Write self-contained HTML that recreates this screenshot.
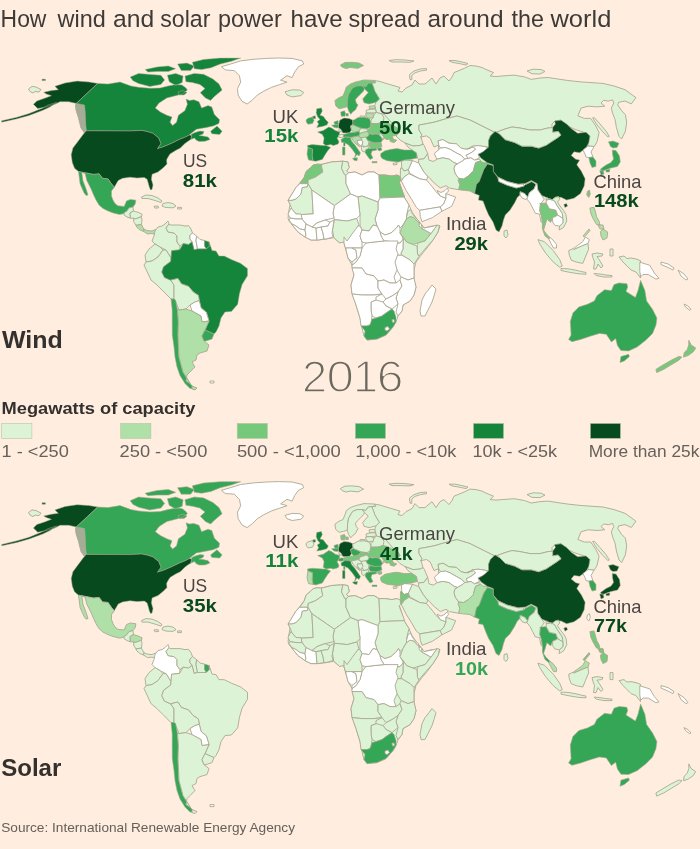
<!DOCTYPE html>
<html lang="en"><head><meta charset="utf-8"><title>How wind and solar power have spread around the world</title>
<style>
html,body{margin:0;padding:0}
body{width:700px;height:849px;background:#ffeedf;position:relative;overflow:hidden;font-family:"Liberation Sans",sans-serif;color:#33302e}
svg{position:absolute;left:0;top:0}
path{stroke:#aca892;stroke-width:.9;stroke-linejoin:round}
.c0{fill:#ffffff}
.c1{fill:#dcf3d6}
.c2{fill:#aee0a8}
.c3{fill:#76c87b}
.c4{fill:#35a656}
.c5{fill:#14853b}
.c6{fill:#064a1d}
.c7{fill:#a5ad96}

path.c5,path.c6{stroke-width:.5}
path.c4{stroke-width:.6}
.sw{stroke:#b9c4a4;stroke-width:.6}
</style></head><body>
<svg width="700" height="849" viewBox="0 0 700 849">
<g id="wind">
<path class="c6" d="M54.9 86.3L65.1 82.9L77.1 81.1L89.1 82L97.7 83.4L76.3 103.4L68.6 101.7L60 101.7L54.9 104.3L46.3 106.9L37.7 108.6L33.4 104.3L36.9 100.9L44.6 98.3L51.4 95.7L46.3 94L43.7 92.3L51.4 90.6L58.3 89.7ZM56.6 102.5L50 107L42.9 110.3L29.1 115.4L17.1 118.8L1.7 122.2L1.7 120.8L17.1 117.2L29.1 113.6L42.9 108L48 105ZM42 79.2L45.4 79.2L45.4 80.6L42 80.6Z"/>
<path class="c7" d="M76.3 103.4L84.5 105L85.2 112L85.7 124L85.7 130.8L86.3 130.8L84.5 133L81 128L78.5 118L76 110L75.5 105Z"/>
<path class="c5" d="M97.7 83.4L108 84L120 82L131 86L138.6 87.3L150 88.3L160 88L168 86L176 84.5L182 85L186 88L187.4 90.1L182.3 94L174.6 95.9L166.9 97.9L159.1 103L155.3 108.1L160.4 112L166.9 115.2L172 117.1L170.1 122.3L172.6 125.5L176.5 122.3L178.4 115.2L184.8 110.7L187.4 104.3L186.1 99.1L189.3 100.4L193.8 99.8L199 101.7L201.6 108.1L208 105.6L211.8 106.9L214.4 114.6L219.6 119.7L218.9 123.6L213.1 126.1L206.7 127.4L196.4 129.3L191 133.5L189.4 135L184.9 137.3L179.1 139.6L172.3 143L164.3 146.4L157.4 148.7L160.9 143.6L158.6 137.9L152.9 133.3L147 131.5L141.4 130.4L130 131L86.3 130.8L85.7 124L85.2 112L84.5 105L76.3 103.4ZM130.2 77.1L138.6 73.4L147.9 74.3L160.9 75.2L164.6 79.9L160.9 84.5L149.7 86.4L138.6 83.6L133 80.8ZM145.1 69.6L157.1 66.9L168.3 65.9L175.7 68.7L168.3 71.5L157.1 71.5L147.9 72.1ZM167.4 75.2L175.7 73.4L183.1 76.1L182.2 82.6L175.7 85.4L169.2 81.7ZM177.6 64.1L186.9 63.1L194.3 65.9L190.6 70.6L181.3 70.6ZM192.4 62.2L203.6 59.4L220.3 58.1L240.7 58.1L231.4 61.3L220.3 64.1L211 67.8L201.7 69.6L194.3 68.7ZM185 76.1L194.3 73.4L203.6 74.3L212.9 78.9L219 84L222.1 90.1L214.4 96.6L210.6 100.4L205.4 97.9L200.3 92.7L205 88.5L199.9 84.5L192.4 82.6L185.9 81.7ZM178 92L183 90.5L187 92.5L184 95L179 95ZM191 134.5L195 132.5L200 131L204 131.5L203 134L199 135.5L203 136L208 137L210 139.5L205 141.3L199 141.5L196 140L194.5 138L190.6 139.6L191.7 135.6ZM217 126.1L222.1 131.3L219.6 134.5L211.8 133.8L210.6 131.3Z"/>
<path class="c0" d="M221.4 66.7L230.4 64.1L240.7 60.9L253.6 59.3L266.4 58.4L279.3 58L292.1 58.4L302.4 60.9L303.7 64.1L298.5 66.7L294.7 71.9L292.1 77.6L287 75.7L280.6 80.2L287 82.1L279.3 84.7L271.6 87.3L263.9 91.1L257.4 95L252.3 100.1L247.1 104L242 101.4L238.1 95L237.5 88.6L240.7 82.1L239.4 75.7L234.3 70.6L225.3 69.9Z"/>
<path class="c6" d="M86.3 130.8L130 131L141.4 130.4L147 131.5L152.9 133.3L158.6 137.9L160.9 143.6L157.4 148.7L164.3 146.4L172.3 143L179.1 139.6L184.9 137.3L189.4 135L191.7 135.6L190.6 139.6L187 142L184.9 143.6L180.3 148.1L175.7 150.4L170 153.9L167.5 158L166.6 160L167 164L163 168L158 172L152.1 174.3L151.4 179.3L153 185L152 189.5L150.5 190L149.3 187.1L148.2 182.9L147.1 179.3L144.3 177.5L137 178L130 177.2L122.6 178.3L118.2 180.5L114.3 187.2L111.5 183.9L108.1 178.9L102.5 178.3L99.1 173.8L93.6 174.4L84.6 172.7L78.5 171.6L74.5 168.2L72.3 162.6L71.2 154.8L72.9 148.1L77.9 141.4L82.9 134.7Z"/>
<path class="c4" d="M81.8 172.2L84.6 172.7L93.6 174.4L99.1 173.8L102.5 178.3L108.1 178.9L111.5 183.9L114.3 187.2L111.5 191L111.5 196L113.1 200.2L115 203.5L117.9 205.7L124.2 206.4L126.5 200.9L130.4 199.4L135.9 200.2L135.2 204.1L133 207L129 208L127 211L124 213L123.4 213.8L119.4 214.5L113.1 212.9L108 211L103 208.5L99 205L96 200L93.6 195L91.3 189.5L86.8 180.5L85.2 173.8ZM78.5 171.6L81.8 172.2L82.9 180.5L86.3 189.5L88 195L86 195.5L84 192.8L80.1 183.9Z"/>
<path class="c1" d="M124 213L127 211L129 208L133 207L133.5 211L130 213L130.4 218.2L127 217L124 215Z"/>
<path class="c1" d="M130 213L133.5 211L138 212.3L142.2 214.3L141.4 216.7L135.2 219L133.6 218.2L130.4 218.2Z"/>
<path class="c1" d="M133.6 218.2L135.2 219L141.4 216.7L142 220L141.4 224.5L135.9 225.3L133.6 221.4Z"/>
<path class="c2" d="M135.9 225.3L141.4 224.5L143.8 229L143.8 231.6L140 230L137 227.5Z"/>
<path class="c2" d="M143.8 229L147 230.5L152 231L155.6 229.5L158 231.6L156 234.7L152 233.5L147.5 234L143.8 231.6Z"/>
<path class="c1" d="M141.5 197L146 195L152 195.5L158 198L162 201L161 202.5L155 200.5L148 198.5L142 198.5Z"/>
<path class="c1" d="M163 203.5L168 202.5L173 203.5L176 206L173 207.8L166 207.5L162 206Z"/>
<path class="c1" d="M154 206.3L158 206L158.7 207.8L155 208.2Z"/>
<path class="c1" d="M177.6 207.3L181.5 207.3L181.5 209L177.6 209Z"/>
<path class="c1" d="M155 231L158 227L162 226L165 224L168 221L169 224L166 228L168 232L174 233L177 236L177 242L180 246L179.6 249.8L171.6 250.7L171 258L166 250L160 247L155 244L152 241L154 236Z"/>
<path class="c1" d="M169 224L170 225L175 225L180 225L185 226L188.6 225.7L191 229L192.5 233L190 235.5L190 239L192.1 241.8L188.6 244.5L183.2 243.6L180 246L177 242L177 236L174 233L168 232L166 228Z"/>
<path class="c0" d="M192.5 233L196.6 236L196 241L197.5 248.9L194 249.8L192.1 241.8L190 239L190 235.5Z"/>
<path class="c0" d="M196.6 236L200 239.5L204.6 240.5L204.6 246L206.4 248.9L197.5 248.9L196 241Z"/>
<path class="c5" d="M204.6 240.5L209.1 241.8L209.5 246L206.4 248.9L204.6 246Z"/>
<path class="c1" d="M149 249L155 244L160 247L163 250L158 257L152 261L146 262L145 255Z"/>
<path class="c1" d="M146 262L152 261L158 257L163 250L166 250L171 258L170.7 261.4L163.6 266.8L161.8 272.1L164.5 277.5L170.7 280.2L174 285L174 299L171 299L163 291L157 285L151 280L144 265Z"/>
<path class="c5" d="M192.1 241.8L188.6 244.5L183.2 243.6L179.6 249.8L171.6 250.7L170.7 261.4L163.6 266.8L161.8 272.1L164.5 277.5L170.7 280.2L177.9 278.4L181.4 283.8L188.6 286.4L193 291.8L198.4 295.4L199.3 300.7L201.1 307.9L206.4 312.3L209 321L205 330L214 334L216 332L219 326L221 318L225 312L231.4 311.4L237.7 304.3L239.5 293.6L242.1 284.6L247.5 275.7L247.5 268.6L240.4 263.2L231.4 259.6L224.3 256.1L219 256L216 251L212 250.5L211.8 249.8L209.1 241.8L209.5 246L206.4 248.9L197.5 248.9L194 249.8Z"/>
<path class="c1" d="M174 285L170.7 280.2L177.9 278.4L181.4 283.8L188.6 286.4L193 291.8L198.4 295.4L199.3 300.7L195 302L190 305L186 309L179 310L175 300L174 299Z"/>
<path class="c0" d="M190 305L195 302L199.3 300.7L201.1 307.9L206.4 312.3L209 321L202 322L201 316L192 311Z"/>
<path class="c4" d="M171 299L174 299L175.5 300L177.5 310L178.4 322L178 335L179 357L183 372L190.5 384L195 389L190 388.5L185 383.5L180 375.5L177 367L175 357L174 347L172.3 335L172.2 322L172.2 310Z"/>
<path class="c2" d="M179 310L186 309L192 311L201 316L202 322L209 321L205 330L202 336L204 341L209 345L207 351L200 353L197 355L196 360L192 362L195 367L190 372L187 375L186 381L190.5 384L183 372L179 357L178 335L178.4 322L177.5 310ZM192 386L197 388L195 390L192 389Z"/>
<path class="c4" d="M205 330L214 334L212 339L206 341L204 341L202 336Z"/>
<path class="c0" d="M210 381L214 381L214 383L210 383Z"/>
<path class="c0" d="M313.2 165.1L317 164.2L321.6 164.4L331.8 161.9L342.8 161.2L347.9 161.9L349.2 167.6L346.6 170.9L348.5 172.8L355 172L362 175L368 172L374 172L379 175L385 175L392 176L397 175L400 177L399 181L402 190L404 197L409 205L412 212L417 219L422 225L424 228L432 226L440 226L438 232L433 240L427 248L422 254L416 262L414 270L414 280L416 287L414 295L410 301L403 305L402 311L398 316L396 322L393 327L386 335L377 339L367 340L364 336L362 328L360 318L356 305L352 293L351 285L354 275L352 265L348 258L346 250L344 243L344 237L343 241L339.6 242.8L333.8 237.7L326 239L318 240L311 240L305 237L298 232L293 226L289 221L288.1 218.4L288.5 213L290.1 204.3L288.1 200.4L292 194L295.9 187.6L299.7 183.1L304.2 177.3L306.1 171.5L310.6 167.6Z"/>
<path class="c3" d="M313.2 165.1L317 164.2L321.6 164.4L321.6 166.4L322.8 172.1L315.1 177.3L308.1 179.9L308.1 183.7L299.7 183.7L304.2 177.3L306.1 171.5L310.6 167.6Z"/>
<path class="c0" d="M299.7 183.7L308.1 183.7L307.4 186.9L302.3 187.6L301 194L295.9 199.1L292 200.4L288.1 200.4L292 194L295.9 187.6Z"/>
<path class="c1" d="M292 200.4L295.9 199.1L301 194L302.3 187.6L307.4 186.9L308.1 183.7L311.9 190.1L313.2 213.9L301 214.6L296 214L292 209.4L290.1 204.3L288.1 200.4Z"/>
<path class="c1" d="M321.6 164.4L331.8 161.9L342.8 161.2L341.5 168.3L344.7 174.7L346 175.4L346 183.7L350.5 194L334.4 205.6L330.6 203L311.9 190.1L308.1 183.7L308.1 179.9L315.1 177.3L322.8 172.1L321.6 166.4Z"/>
<path class="c1" d="M342.8 161.2L347.9 161.9L349.2 167.6L346.6 170.9L348.5 172.8L346 175.4L344.7 174.7L341.5 168.3Z"/>
<path class="c0" d="M346 175.4L348.5 172.8L355 172L362 175L368 172L374 172L379 175L380 198L378 202L362 196L358 197L350.5 194L346 183.7Z"/>
<path class="c3" d="M379 175L385 175L392 176L397 175L400.3 176.5L400.5 181L399.2 182.5L402 190L404.7 197L380 198Z"/>
<path class="c0" d="M380 198L404 197L409 205L407 213L406.5 217L406.5 219L403 225L400 228L398.5 225L396.5 228L391 233L385 235L380 232L377 226L375 219L378 210L378 202Z"/>
<path class="c0" d="M380 232L385 235L391 233L396.5 228L398.5 225L400 228L400 233L403.5 239L400 243L393 244L388 241L384 241L381 236Z"/>
<path class="c1" d="M358 197L362 196L378 202L378 210L375 219L377 226L373 225L369 231L362 230L360 226L360 215L359 206Z"/>
<path class="c0" d="M334.4 205.6L350.5 194L358 197L359 206L360 215L356.9 218.4L347.3 221L338 220L334.4 219.7L334 218L333 213Z"/>
<path class="c0" d="M311.9 190.1L330.6 203L334.4 205.6L333 213L334 218L325 220L317 223L312 227L306 224L302 219L301 214.6L313.2 213.9Z"/>
<path class="c1" d="M334.4 219.7L338 220L347.3 221L356.9 218.4L358.8 224.8L353 235.1L347.3 241.5L339.6 242.8L333.8 237.7L332.5 230Z"/>
<path class="c2" d="M400 233L403 225L406.5 219L410 216.5L414 217.5L418 222L419.5 223L419 224L422 228.5L431 233.5L425 241L418 243L413 244.5L406.5 242L403 237Z"/>
<path class="c1" d="M406.5 219L406.5 217L408 211L410.5 209.5L412.5 214L415 217L418 220L419.5 223L418 222L414 217.5L410 216.5Z"/>
<path class="c1" d="M434.5 228.5L437 225L439.5 225.5L438 232L433 240L425 249L419 256L417.5 254L417 246L418 243L425 241L431 233.5Z"/>
<path class="c0" d="M421.5 224.5L424 228L432 226.5L437 225L434.5 228.5L431 233.5L422 228.5Z"/>
<path class="c0" d="M419.5 223L421.5 224.5L422 228.5L419 226Z"/>
<path class="c1" d="M403 243L403 237L406.5 242L413 244.5L417 246L417.5 254L419 256.5L414 264L410 260L401.5 255L401 253L403 249Z"/>
<path class="c0" d="M394 255L401.5 255L410 260L414 264L414 270L414 278L408 280L401 277L397 270L394 262Z"/>
<path class="c0" d="M393 244L400 243L403.5 239L403 243L403 249L401 253L401.5 255L394 255L392.5 250Z"/>
<path class="c0" d="M352 265L356 262L360 256L362 248L366 243L374 242L384 241L390 241L398 241L396 249L398 254L395 262L397 270L394 277L396 283L390 283L384 280L378 281L374 276L366 274L362 268L355 268L352 268Z"/>
<path class="c0" d="M352 268L355 268L362 268L366 274L374 276L378 281L378 288L382 294L374 295L362 295L352 294L351 285L354 275Z"/>
<path class="c0" d="M378 281L384 280L390 283L396 283L400 280L402 286L398 292L392 296L386 299L382 294L378 288Z"/>
<path class="c0" d="M401 277L408 280L414 278L416 287L414 295L410 301L403 305L402 311L398 316L396 312L398 304L396 298L398 292L402 286L400 280Z"/>
<path class="c0" d="M386 299L392 296L398 292L396 298L398 304L392 309L386 306L383 302Z"/>
<path class="c0" d="M371 302L376 300L383 302L386 306L392 309L386 313L382 316L376 318L372 316L371 310Z"/>
<path class="c0" d="M352 294L362 295L374 295L382 294L376 297L376 300L371 302L371 310L372 316L371 324L367 326L361 326L360 318L356 305Z"/>
<path class="c4" d="M361 326L367 326L370 325L372 319L376 318L382 316L386 313L392 309L394 311L396 317L396 322L393 327L386 335L377 339L367 340L364 336L365 331Z"/>
<path class="c0" d="M385 327.5L388 326.5L389.5 329L387 331L385 330Z"/>
<path class="c0" d="M392 319.5L394 319.5L394.5 322L392.5 322.5Z"/>
<path class="c0" d="M432 285L436 289L434 296L432 302L428 310L425 316L421 316L420 311L422 300L425 294L429 289Z"/>
<path class="c0" d="M344 237L347 241L352 234L358 226L360 226L362 230L360 236L362 242L362 248L352 248L346 248L346 250L344 243Z"/>
<path class="c0" d="M362 230L369 231L373 225L377 226L380 232L381 236L384 241L374 242L366 243L362 242L360 236Z"/>
<path class="c0" d="M346 248L352 248L356 250L357 258L352 262L348 258L346 250Z"/>
<path class="c0" d="M352 248L362 248L360 256L356 262L352 265L352 262L357 258L356 250Z"/>
<path class="c0" d="M289 212L291 208L296 214L301 214L302 219L296 219L290 218L288 214Z"/>
<path class="c0" d="M290 218L296 219L302 219L306 224L305 230L300 229L296 226L292 224L289 220Z"/>
<path class="c0" d="M292 224L296 226L300 229L305 230L306 235L305 237L298 232L293 226Z"/>
<path class="c0" d="M305 230L306 224L312 227L316 228L317 240L311 240L305 237L306 235Z"/>
<path class="c0" d="M316 228L321 227L323 233L324 239L318 240L317 240Z"/>
<path class="c0" d="M312 227L317 223L325 220L330 222L328 226L321 227L316 228Z"/>
<path class="c0" d="M321 227L328 226L330 222L334 220L332 233L333 237L326 239L324 239L323 233Z"/>
<path class="c1" d="M438 141L490 135L492 165L478 168L456 180L440 165Z"/>
<path class="c1" d="M375.6 82.6L374.3 80.4L380 81.5L388 84L395 86L400 87.5L398 91L402 92L406 88L412 85L415 80L419 84L425 84L432 78L436 84L440 78L444 76L449 81L452 77L454 72.6L464.4 68.3L470 65.5L476 66L482 67.5L486 69.5L493.6 72.6L490.1 76L496 76.5L502.1 76L514.1 75.1L524.4 76.9L531.3 79.4L540 78L548 77.5L555.8 78.7L568 80.5L580.9 81.9L603 83.4L614 86L625 89.7L636 97.6L631.3 103.9L625 101L618.7 102.3L617.7 104.9L621.6 110.7L625.4 114.6L626.7 122.3L625.4 131.3L621.6 139L619 136.4L616.4 127.4L615.1 119.7L612.6 113.3L611.3 108.1L613.8 103L612.6 99.8L608.7 101.1L603.6 100.4L601 103L604.8 106.2L597.1 106.9L588.1 106.2L581.1 108.1L577.9 115.9L584.3 118.4L590.7 118.4L595.9 126.1L599.1 132.6L597.1 141.6L594.6 146.1L594 146.5L588 146L588 144L590 136L586 133L574 129L566 125L561 120L555 121L552 124L552 128L548 128L540 130L530 130L520 128L512 127L505 129L497 132L494 132L482 126L470 120L457 116L445 119L435 122L425 124L419 125L419 130L422 135L421 137L423 144L420 145.5L413 146L405 143L400 140L396 136L400 132L398 128.5L393 126L388 123L383 122L384 118L382 114L376.5 112.5L375.5 108.5L374.7 105.7L376 102.3L379.4 98.9L377.3 95.4L374.7 91.1L373.4 86.9L371.7 83ZM426.5 68.5L420 69L414 71L409.5 74.5L410 79.5L411.8 79.8L411.8 75.5L415 72.8L420.5 71L426.5 70.2ZM449 60.6L455 60.5L462 62L468 63.5L466 65L459 63.5L452 62.3ZM527 71L533 69.2L541 69.5L545 71.5L540 74L532 73.8ZM389 60.5L396 59.7L405 60L414 61L410 62.3L400 62L392 62ZM592.6 117.8L594.5 117.8L600 124L606 131L609.3 136.4L607.8 137L603 132L597 125ZM28.5 89L32 86.3L36 87L41 89.5L39 92L35 91.5L33 93L30 91.5ZM360 116L365 116L365 118L360 118Z"/>
<path class="c1" d="M419 125L425 124L435 122L445 119L457 116L470 120L482 126L494 132L490.4 136L488.6 140.6L488.6 147.1L486.6 146.9L478.1 145.6L472.1 146.3L473.3 146.9L466 149.3L461.1 148.1L456.3 143.8L449 143.2L442.9 139.6L438.1 140.8L438.7 145L434 147L430.2 138.4L426.5 135.9L420.5 137.1L422 135L419 130Z"/>
<path class="c0" d="M438.1 140.8L442.9 139.6L449 143.2L456.3 143.8L461.1 148.1L466 149.3L473.3 146.9L475.7 149.3L470.9 152.9L466 155.4L468.4 158.4L464.8 159L461.1 155.4L456.3 152.9L450.2 149.3L445.4 147.5L440.5 148.1L438.7 145Z"/>
<path class="c0" d="M435 152.9L440.5 148.1L445.4 147.5L450.2 149.3L456.3 152.9L461.1 155.4L464.8 159L461.8 161.4L457.5 163.9L453.9 162.6L449 159L442.9 157.8L437.5 159L436.9 159L434.4 154.1Z"/>
<path class="c0" d="M467.2 149.3L472.1 146.3L478.1 145.6L486.6 146.9L487.9 150.5L483 152.3L478.1 154.1L479.4 157.8L474.5 160.2L470.9 157.8L468.4 158.4L466 155.4L470.9 152.9L475.7 149.3L473.3 146.9Z"/>
<path class="c1" d="M405 143L413 146L420 145.5L423.1 144L424.3 145.7L427.7 153.7L424 158.8L418.6 159.4L417.4 158.3L416.4 152.9L412.1 150L408 147Z"/>
<path class="c0" d="M455.1 165.1L461.8 161.4L464.8 159L468.4 158.4L470.9 157.8L474.5 160.2L479.4 159L480.6 160.8L475.7 162.6L474.5 166.3L473.3 171.1L468.4 176L463.6 179L458.7 178.4L455.1 173.6L453.9 168.7Z"/>
<path class="c3" d="M475.7 162.6L480.6 160.8L483 162.6L487.6 162.9L487.6 163.9L483.9 169.4L479.3 181.5L476.5 184.3L474.6 193.6L470 191L461 190L458.6 189.7L459.7 184.6L458.1 180.3L458.7 178.4L463.6 179L468.4 176L473.3 171.1L474.5 166.3Z"/>
<path class="c1" d="M418.6 159.4L424 158.8L427.7 153.7L429 160.2L433.2 161.4L437.5 159L442.9 157.8L449 159L453.9 162.6L457.5 163.9L455.1 165.1L453.9 168.7L455.1 173.6L458.7 178.4L458.1 180.3L459.7 184.6L458.6 189.7L449.4 188L446 185.7L440.3 188L433.4 182.3L429.4 177.7L427.7 176.6L423.1 170.9L418.6 162.9Z"/>
<path class="c0" d="M412.3 160.6L418.6 162.9L423.1 170.9L427.7 176.6L426.6 180L419.7 178.9L409.4 173.1L408.3 169.7Z"/>
<path class="c1" d="M401.4 161.5L404.3 160L412.3 160.6L408.3 169.7L404 171L401.8 168Z"/>
<path class="c1" d="M400.5 168L401.8 168L404 171L408.3 169.7L409.4 173.1L408.9 173.7L404 177L401.4 181.1L400.3 176Z"/>
<path class="c0" d="M401.4 181.1L404 177L408.9 173.7L419.7 178.9L426.6 180L429.4 183.4L432.5 187L435.7 191.4L440.3 196L446 198.3L443.7 204L440.3 206.9L430 208.6L419.7 210.3L416.3 207.4L411.7 199.4L406 190.3Z"/>
<path class="c0" d="M419.7 210.3L430 208.6L440.3 206.9L442 211.2L432.3 217.7L422 221.7L420.3 216.6Z"/>
<path class="c0" d="M437 190.5L441 192.5L445 190.5L447.5 187.8L448.5 191L446 193.7L446 198.3L440.3 196Z"/>
<path class="c0" d="M446 193.7L455.7 197.1L451.7 206.3L442 211.2L440.3 206.9L443.7 204L446 198.3Z"/>
<path class="c6" d="M495.1 131.4L499.7 134.1L505.3 139.7L514.6 142.5L522 146.2L531.3 146.2L538.7 148.1L546.1 145.3L551.7 141.6L557.3 137.9L561 135.1L558.2 131.4L552.6 132.3L552.6 127.6L555.4 123.9L554.5 121.1L561 120.2L566.6 123.9L571.2 128.6L577.7 133.2L586.1 132.3L589.8 136L588.8 142.5L586.1 148.1L579.6 152.7L574 151.8L571.2 155.5L575.8 159.2L579.6 160.1L576.8 164.8L581.4 171.3L585.1 178.7L584.2 186.1L580.5 193.6L574 198.2L566.6 200.1L561 197.3L555.4 197.3L551.7 200.1L546.1 197.3L541.5 195.4L537.8 189.9L536.9 183.4L531.3 180.6L525.7 183.4L518.3 184.3L507.1 181.5L497.9 176.9L493.2 171.3L493.2 164.8L487.6 162.9L481.1 158.3L478.4 154.6L483 151.8L488.6 147.1L488.6 140.6L490.4 136ZM563.8 204.5L566.5 203.6L567.6 206L565 207.6Z"/>
<path class="c1" d="M497 132L505 129L512 127L520 128L530 130L540 130L548 128L552.6 127.6L552.6 132.3L558.2 131.4L561 135.1L557.3 137.9L551.7 141.6L546.1 145.3L538.7 148.1L531.3 146.2L522 146.2L514.6 142.5L505.3 139.7L499.7 134.1Z"/>
<path class="c6" d="M487.6 163.9L493.2 165.7L493.2 171.3L497.9 177.8L498.8 181.5L507.1 185.2L516.4 188L523.9 186.1L525.7 184.3L531.3 181.5L535.9 184.3L534.1 188.9L529.4 192.6L527.6 197.3L524.8 193.6L520.1 191.7L520 195L517.4 197.3L514.6 202.9L509.9 210.3L505.3 214.9L503.5 220L502 226L499 232L496 230L493 222L488.6 214.9L485.8 208.4L483 201L478.4 200.1L479.3 195.4L474.6 193.6L476.5 184.3L479.3 181.5L483.9 169.4Z"/>
<path class="c0" d="M497.9 177.2L507.1 181.5L518.3 184.3L523.5 184L523.9 186.1L516.4 188L507.1 185.2L498.8 181.5Z"/>
<path class="c0" d="M525.7 183.4L531.3 180.9L531.3 181.7L525.7 184.5Z"/>
<path class="c0" d="M520.1 191.7L524.8 193.6L527.6 197.3L526 199.5L522 198L520 195Z"/>
<path class="c1" d="M504 231L507 230L508 235L506 238L504 236Z"/>
<path class="c0" d="M529.4 192.6L534.1 188.9L535.9 184.3L536.9 183.4L537.8 189.9L541.5 195.4L544.3 199.1L540.4 204.3L539.8 210.7L541.5 216L542.4 222.3L541 222L539.5 214L535.3 213.3L532.7 208.1L530.1 203L526.9 199.1L527.6 197.3Z"/>
<path class="c3" d="M539.8 203.6L546.2 203L549.4 208.8L555.8 210.1L557.8 215.2L552.6 217.8L550.7 222.3L546.9 219.1L545.6 223.6L543.6 230L546.2 233.8L550.1 237.7L548.8 239L544.9 235.8L542.4 228.7L542.4 222.3L541.5 216L539.8 210.7L540.4 204.3Z"/>
<path class="c0" d="M546.2 203L546.2 200L550.7 199.1L554.6 201L557.1 205.6L562.3 213.3L562.9 218.4L557.8 215.2L555.8 210.1L549.4 208.8Z"/>
<path class="c1" d="M546.1 197.3L551.7 200.1L555.4 197.3L558.5 196.5L559.7 199.5L557.5 202L560 206L563.6 210.5L566 214.6L566.8 221L563.6 227.4L559.1 230L559.5 226.1L562.9 223L562.9 218.4L562.3 213.3L557.1 205.6L554.6 201L550.7 199.1L546.2 200Z"/>
<path class="c0" d="M552.6 217.8L557.8 215.2L562.9 218.4L562.9 223L559.5 226.1L555 225.5L552.6 222Z"/>
<path class="c0" d="M550.1 237.7L553 240L556.5 244.5L556.5 248L553.5 248L551 243.5L548.8 239ZM573.2 248.6L577.7 245.4L582.8 241.6L585.4 237.1L589.3 239.6L588 243.5L581.6 246.1L573.8 249.5Z"/>
<path class="c1" d="M537.9 239.6L544.3 241.6L553.3 250.6L559.7 259.6L562.3 266L559.7 267.3L553.3 262.1L545.6 253.1L539.8 244.1ZM561 268.5L568 268.8L575 270L580.3 271.3L586 272.5L586 274.3L578 273.7L568 272L561 270.5ZM568.7 250.6L573.2 248.6L573.8 249.5L581.6 246.1L588 243.5L588.6 249.3L585.4 257L582.8 263.4L576.4 262.1L571.3 260.2L569.3 255.1ZM592 254L597 253L603 254L602 256L597 256.5L600 261L603 266L601 268L598 264L596 269L593.5 269L594.5 262L593 258ZM619 257L624 256L627 258.5L631 258L636 259L640.5 260.7L640.5 278L636 272L631 270L627 266L623 262ZM594 273.5L600 274L606 275L612 275.5L612 277L604 277L596 275.5ZM610 249L613 249L613 256L610 256Z"/>
<path class="c0" d="M639.8 262.2L649.8 265.3L654.4 273L659 278.3L655.9 279.1L648.3 274.5L642.9 274.5L640.6 276.8L639.8 271.4ZM661 262L668 264L674 268L673 270L667 267L661 264.5ZM678 270L684 274L688 279L686 280L681 276ZM684 304L688 306L691 309.5L689.5 310L685.5 307Z"/>
<path class="c2" d="M589.9 208L594 207.3L595.5 212L596.5 216.5L599 221L600 225L596.5 224.5L593 218.5L590.8 213.5ZM600.4 231.6L603 229L607.7 232L607 238L603 240L601 236ZM598 225L603 225L604 229L600 229ZM583 236L589 229L590 230.5L584.5 237Z"/>
<path class="c3" d="M587.3 191.5L589.5 190.1L590.2 194L588.8 197.4L586.8 195Z"/>
<path class="c0" d="M583 150L588 146L594 146.5L591 152L593 157L588.8 157.6L586 157L585 154Z"/>
<path class="c4" d="M588.8 157.6L593 157L596 161L595.9 166.6L592 167.5L590 163Z"/>
<path class="c4" d="M608.5 141.8L613 141L619 143.2L617 147.5L613 148L610.5 146.5ZM612.3 150L616 150.5L619.5 156L620.3 162L617.5 166.5L611 168L606.5 169.5L602 171.5L600.5 169L606 165L611 162.5L613.5 159L612.5 154ZM599.7 170.5L603 170L604 174L601 175.3ZM606 170L610 169.3L609.3 172L606 172Z"/>
<path class="c4" d="M568.6 339.4L571.1 335.1L570.3 321.4L572.9 312.9L578.9 306.9L587.4 304.3L594.3 300.9L596.9 295.7L604.6 289.7L611.4 290.6L614 284.6L619.1 282.9L626.9 283.7L627.7 287.1L626 291.4L635.4 297.4L638 290.6L640.6 280.3L644.9 290.6L646.6 300.9L652.6 309.4L656.9 318L656 324.9L652.6 333.4L645.7 340.3L637.1 347.1L628.6 350.9L620.9 350.6L617.4 345.4L615.7 338.6L611.4 342L606.3 334.3L599.4 333.4L590.9 336L580.6 339.4L572 341.7ZM620.9 356.6L628.6 354.3L629.4 356.6L624.3 360.9L620 362.6Z"/>
<path class="c3" d="M688.8 340.3L691.1 344.9L695.7 348L693.4 351.8L688.1 355.6L683.5 357.1L684.2 352.6L687.3 349.5L688.8 344.9ZM681.9 357.1L678.9 360.2L671.2 364.8L663.6 369.4L656.7 372.5L655.9 369.4L662 365.6L671.2 360.2L678.9 356.4Z"/>
<path class="c1" d="M339 121L354 121L366 119L372 114.5L384 114L396 128L384 139L370 147L366 140L352 134L339 131Z"/>
<path class="c1" d="M285 91.8L292.1 89.8L299.8 90.1L303.7 92.4L301.1 95.6L292.1 96.9L287 95Z"/>
<path class="c3" d="M340.4 65L345 62.5L352 62.3L359 63L363.6 65.5L358 68.3L350 67.5L346 68.5L342 67Z"/>
<path class="c3" d="M334.9 100.6L339.1 97.6L343 96L345 91L346.4 86.9L350.5 84L355.4 82.1L364 80L374.3 80.4L375.6 82.6L371.7 83L368.3 83.4L365.7 86.9L362.3 86L357.1 86L352.9 87.7L351.1 90.3L348.6 94.6L347.7 99.7L347.3 106.6L343.4 107.8L339.1 108.7L335.7 105.7Z"/>
<path class="c4" d="M352.9 87.7L357.1 86L362.3 86L364.4 88.6L363.6 91.1L360.6 94.1L357.6 97.1L355.4 99.7L356.3 103.1L358 104.9L355.4 110L352.9 111.7L350.7 114.3L348.6 110.9L347.3 106.6L347.7 99.7L348.6 94.6L351.1 90.3Z"/>
<path class="c4" d="M365.7 86.9L368.3 83.4L371.7 83L373.4 86.9L374.7 91.1L377.3 95.4L379.4 98.9L376 102.3L369.1 104L364 102.7L362.7 98.9L365.7 95.4L368.3 92.4L365.7 90.3L364.4 88.6L362.3 86Z"/>
<path class="c4" d="M340.7 112L344.5 110.8L345.5 113.5L345 116.2L341.2 116.3ZM346 113.5L348.2 113.5L348.2 116L346 116Z"/>
<path class="c5" d="M316.7 108.8L321.4 107.9L322.3 111.1L320 115.3L323.2 116.2L326 120L328.3 122.3L326.9 125.1L322.3 126.5L316.7 127.4L318.6 124.1L317.2 121.4L320 119.5L317.6 116.7L316.2 113ZM312.5 116.5L315.3 115.8L315.6 118.4L313.3 119Z"/>
<path class="c4" d="M306 120L308 118.3L312.5 117L313.3 119L314 120.5L312.5 123.5L308 124.3L306.5 122.5Z"/>
<path class="c5" d="M317.6 132L323.2 130.6L328.8 126.9L331.6 127.9L335.3 130.6L339.9 132L339 135.7L337.1 138.1L339 141.8L338.1 144.1L333.4 145.5L330.6 144.6L326 145.5L323.2 143.6L324.1 138.1L322.3 134.4ZM343.6 142.5L345 142.5L345 146L343.6 146Z"/>
<path class="c5" d="M307.4 145.5L312.1 144.6L323.2 145.5L326 145.5L330.6 147.4L327.9 150.6L325.1 154.8L322.3 159.4L315.8 161.3L313 160.8L312.1 155.7L312.5 149.2L307.9 147.4Z"/>
<path class="c4" d="M307.9 147.4L312.5 149.2L312.1 155.7L313 160.8L308.5 160L307 154Z"/>
<path class="c6" d="M338.5 125L340 120L344 118L349 118.5L352.5 120L353 124L350.5 126L351.5 130L349.5 132.8L343 133L341 129.5L338.5 127.5Z"/>
<path class="c4" d="M333.9 122L338 120.6L338.1 123.2L338.5 124.6L335 124.8Z"/>
<path class="c4" d="M331.6 125.2L335 124.8L338.5 124.6L338.5 126.9L337.1 128L334 127.3Z"/>
<path class="c1" d="M338.5 135.5L341 134.3L343.5 134.5L343.5 137L341.5 137.6L338.7 137.3Z"/>
<path class="c4" d="M343.5 134.5L349.5 132.8L354 132.3L359 131L360 133.5L359 136L352 137.4L347 136.9L343.5 137Z"/>
<path class="c2" d="M350.5 126L353.5 125L357 126.5L361 128.5L359 131L354 132.3L351.5 130Z"/>
<path class="c4" d="M354 120L358 117.5L364 117.2L369.5 118.5L371 123L370.5 127L367 129L362 128.5L357 126.5L353.5 125L353 124L352.5 120Z"/>
<path class="c1" d="M359 131L361 128.5L367 129L368 131L362 132.8L360 133.5Z"/>
<path class="c2" d="M360 133.5L362 132.8L368 131L369.5 133.5L368.5 136L366 137.5L361 137.9L359 136Z"/>
<path class="c4" d="M341 139.5L345 137L350.5 137.5L351.5 141L355 145L358.5 150L360.5 153L359 156L357 154.5L354.5 158L355.5 154L352 149L348 144.5L344 142.5L341.5 142.3ZM352.5 158.3L357.5 157.8L357 160.8L354 160.3ZM342.5 147L345 147L345 155L342.5 155Z"/>
<path class="c2" d="M351.4 137.4L358 136L361 137.9L362 140L358 140.5L357 143L360 147L356 144L353 140.5Z"/>
<path class="c0" d="M357 140.5L362 140L363 143L361 146L358 143.5Z"/>
<path class="c1" d="M361 137.9L366 137L367.5 140L369 142L368 146L364 147L362 144L363 143L362 140Z"/>
<path class="c1" d="M361 146L364 147L368 146L369 148.5L366 149.5L364 152L362 151Z"/>
<path class="c4" d="M366 137.5L368.5 136L369.5 133.5L372 134.5L377 133.8L380.5 135.5L382.5 140L381 142.5L375 143L370 141.5L367.5 140Z"/>
<path class="c1" d="M379 134.5L381 133L384 137L382.9 139Z"/>
<path class="c3" d="M369.5 142L375 143L381 142.5L382 146.5L376 148.3L370.5 148L369 145.5Z"/>
<path class="c4" d="M366 149.5L369 148.5L376 148.3L377 150L372 151L371 154L373 158L370 159.5L367 155.5L365 152.5ZM372 161.5L377 161.5L377 162.8L372 162.8Z"/>
<path class="c4" d="M380.7 153.6L385 150.7L391.4 149.3L397.1 148.6L404.3 150L412.1 150L416.4 152.9L417.1 157.9L411.4 159.3L404.3 160L398.6 162.1L392.9 161.4L387.1 160.7L382.1 158.6L380.7 156.4ZM377 148.5L381 147.5L382 150L379 151Z"/>
<path class="c1" d="M393 163.5L397 162.5L397 164.5L393.5 165Z"/>
<path class="c2" d="M369.1 106.2L374.7 105.7L375.5 108.5L369.5 109Z"/>
<path class="c1" d="M366 110.5L369 109.5L375 109L376.5 112.5L371 113L366.5 113Z"/>
<path class="c2" d="M365.7 113.3L371 113L374.3 114.5L373.5 117.5L369 118.3L366 116.5Z"/>
<path class="c1" d="M371 120L373 118L374 114.5L376.5 112.5L382 114L384 118L383 122L378 123.5L371 123.6Z"/>
<path class="c3" d="M370.7 123.6L378 123.5L383 122L388 123L393 126L398 128.5L400 132L396 135.5L392 136L393.5 139.3L396.8 140.3L394 142.6L390.3 141.6L389.8 139.3L386 139.5L384 137L381 133L379 134.5L374 133.5L368.6 133.6L367 131L370 127.9Z"/>
</g>
<g id="solar" transform="translate(0,423.6)">
<path class="c6" d="M54.9 86.3L65.1 82.9L77.1 81.1L89.1 82L97.7 83.4L76.3 103.4L68.6 101.7L60 101.7L54.9 104.3L46.3 106.9L37.7 108.6L33.4 104.3L36.9 100.9L44.6 98.3L51.4 95.7L46.3 94L43.7 92.3L51.4 90.6L58.3 89.7ZM56.6 102.5L50 107L42.9 110.3L29.1 115.4L17.1 118.8L1.7 122.2L1.7 120.8L17.1 117.2L29.1 113.6L42.9 108L48 105ZM42 79.2L45.4 79.2L45.4 80.6L42 80.6Z"/>
<path class="c7" d="M76.3 103.4L84.5 105L85.2 112L85.7 124L85.7 130.8L86.3 130.8L84.5 133L81 128L78.5 118L76 110L75.5 105Z"/>
<path class="c4" d="M97.7 83.4L108 84L120 82L131 86L138.6 87.3L150 88.3L160 88L168 86L176 84.5L182 85L186 88L187.4 90.1L182.3 94L174.6 95.9L166.9 97.9L159.1 103L155.3 108.1L160.4 112L166.9 115.2L172 117.1L170.1 122.3L172.6 125.5L176.5 122.3L178.4 115.2L184.8 110.7L187.4 104.3L186.1 99.1L189.3 100.4L193.8 99.8L199 101.7L201.6 108.1L208 105.6L211.8 106.9L214.4 114.6L219.6 119.7L218.9 123.6L213.1 126.1L206.7 127.4L196.4 129.3L191 133.5L189.4 135L184.9 137.3L179.1 139.6L172.3 143L164.3 146.4L157.4 148.7L160.9 143.6L158.6 137.9L152.9 133.3L147 131.5L141.4 130.4L130 131L86.3 130.8L85.7 124L85.2 112L84.5 105L76.3 103.4ZM130.2 77.1L138.6 73.4L147.9 74.3L160.9 75.2L164.6 79.9L160.9 84.5L149.7 86.4L138.6 83.6L133 80.8ZM145.1 69.6L157.1 66.9L168.3 65.9L175.7 68.7L168.3 71.5L157.1 71.5L147.9 72.1ZM167.4 75.2L175.7 73.4L183.1 76.1L182.2 82.6L175.7 85.4L169.2 81.7ZM177.6 64.1L186.9 63.1L194.3 65.9L190.6 70.6L181.3 70.6ZM192.4 62.2L203.6 59.4L220.3 58.1L240.7 58.1L231.4 61.3L220.3 64.1L211 67.8L201.7 69.6L194.3 68.7ZM185 76.1L194.3 73.4L203.6 74.3L212.9 78.9L219 84L222.1 90.1L214.4 96.6L210.6 100.4L205.4 97.9L200.3 92.7L205 88.5L199.9 84.5L192.4 82.6L185.9 81.7ZM178 92L183 90.5L187 92.5L184 95L179 95ZM191 134.5L195 132.5L200 131L204 131.5L203 134L199 135.5L203 136L208 137L210 139.5L205 141.3L199 141.5L196 140L194.5 138L190.6 139.6L191.7 135.6ZM217 126.1L222.1 131.3L219.6 134.5L211.8 133.8L210.6 131.3Z"/>
<path class="c0" d="M221.4 66.7L230.4 64.1L240.7 60.9L253.6 59.3L266.4 58.4L279.3 58L292.1 58.4L302.4 60.9L303.7 64.1L298.5 66.7L294.7 71.9L292.1 77.6L287 75.7L280.6 80.2L287 82.1L279.3 84.7L271.6 87.3L263.9 91.1L257.4 95L252.3 100.1L247.1 104L242 101.4L238.1 95L237.5 88.6L240.7 82.1L239.4 75.7L234.3 70.6L225.3 69.9Z"/>
<path class="c6" d="M86.3 130.8L130 131L141.4 130.4L147 131.5L152.9 133.3L158.6 137.9L160.9 143.6L157.4 148.7L164.3 146.4L172.3 143L179.1 139.6L184.9 137.3L189.4 135L191.7 135.6L190.6 139.6L187 142L184.9 143.6L180.3 148.1L175.7 150.4L170 153.9L167.5 158L166.6 160L167 164L163 168L158 172L152.1 174.3L151.4 179.3L153 185L152 189.5L150.5 190L149.3 187.1L148.2 182.9L147.1 179.3L144.3 177.5L137 178L130 177.2L122.6 178.3L118.2 180.5L114.3 187.2L111.5 183.9L108.1 178.9L102.5 178.3L99.1 173.8L93.6 174.4L84.6 172.7L78.5 171.6L74.5 168.2L72.3 162.6L71.2 154.8L72.9 148.1L77.9 141.4L82.9 134.7Z"/>
<path class="c2" d="M81.8 172.2L84.6 172.7L93.6 174.4L99.1 173.8L102.5 178.3L108.1 178.9L111.5 183.9L114.3 187.2L111.5 191L111.5 196L113.1 200.2L115 203.5L117.9 205.7L124.2 206.4L126.5 200.9L130.4 199.4L135.9 200.2L135.2 204.1L133 207L129 208L127 211L124 213L123.4 213.8L119.4 214.5L113.1 212.9L108 211L103 208.5L99 205L96 200L93.6 195L91.3 189.5L86.8 180.5L85.2 173.8ZM78.5 171.6L81.8 172.2L82.9 180.5L86.3 189.5L88 195L86 195.5L84 192.8L80.1 183.9Z"/>
<path class="c1" d="M124 213L127 211L129 208L133 207L133.5 211L130 213L130.4 218.2L127 217L124 215Z"/>
<path class="c2" d="M130 213L133.5 211L138 212.3L142.2 214.3L141.4 216.7L135.2 219L133.6 218.2L130.4 218.2Z"/>
<path class="c1" d="M133.6 218.2L135.2 219L141.4 216.7L142 220L141.4 224.5L135.9 225.3L133.6 221.4Z"/>
<path class="c1" d="M135.9 225.3L141.4 224.5L143.8 229L143.8 231.6L140 230L137 227.5Z"/>
<path class="c1" d="M143.8 229L147 230.5L152 231L155.6 229.5L158 231.6L156 234.7L152 233.5L147.5 234L143.8 231.6Z"/>
<path class="c1" d="M141.5 197L146 195L152 195.5L158 198L162 201L161 202.5L155 200.5L148 198.5L142 198.5Z"/>
<path class="c1" d="M163 203.5L168 202.5L173 203.5L176 206L173 207.8L166 207.5L162 206Z"/>
<path class="c1" d="M154 206.3L158 206L158.7 207.8L155 208.2Z"/>
<path class="c1" d="M177.6 207.3L181.5 207.3L181.5 209L177.6 209Z"/>
<path class="c0" d="M155 231L158 227L162 226L165 224L168 221L169 224L166 228L168 232L174 233L177 236L177 242L180 246L179.6 249.8L171.6 250.7L171 258L166 250L160 247L155 244L152 241L154 236Z"/>
<path class="c1" d="M169 224L170 225L175 225L180 225L185 226L188.6 225.7L191 229L192.5 233L190 235.5L190 239L192.1 241.8L188.6 244.5L183.2 243.6L180 246L177 242L177 236L174 233L168 232L166 228Z"/>
<path class="c1" d="M192.5 233L196.6 236L196 241L197.5 248.9L194 249.8L192.1 241.8L190 239L190 235.5Z"/>
<path class="c1" d="M196.6 236L200 239.5L204.6 240.5L204.6 246L206.4 248.9L197.5 248.9L196 241Z"/>
<path class="c4" d="M204.6 240.5L209.1 241.8L209.5 246L206.4 248.9L204.6 246Z"/>
<path class="c1" d="M149 249L155 244L160 247L163 250L158 257L152 261L146 262L145 255Z"/>
<path class="c1" d="M146 262L152 261L158 257L163 250L166 250L171 258L170.7 261.4L163.6 266.8L161.8 272.1L164.5 277.5L170.7 280.2L174 285L174 299L171 299L163 291L157 285L151 280L144 265Z"/>
<path class="c1" d="M192.1 241.8L188.6 244.5L183.2 243.6L179.6 249.8L171.6 250.7L170.7 261.4L163.6 266.8L161.8 272.1L164.5 277.5L170.7 280.2L177.9 278.4L181.4 283.8L188.6 286.4L193 291.8L198.4 295.4L199.3 300.7L201.1 307.9L206.4 312.3L209 321L205 330L214 334L216 332L219 326L221 318L225 312L231.4 311.4L237.7 304.3L239.5 293.6L242.1 284.6L247.5 275.7L247.5 268.6L240.4 263.2L231.4 259.6L224.3 256.1L219 256L216 251L212 250.5L211.8 249.8L209.1 241.8L209.5 246L206.4 248.9L197.5 248.9L194 249.8Z"/>
<path class="c1" d="M174 285L170.7 280.2L177.9 278.4L181.4 283.8L188.6 286.4L193 291.8L198.4 295.4L199.3 300.7L195 302L190 305L186 309L179 310L175 300L174 299Z"/>
<path class="c0" d="M190 305L195 302L199.3 300.7L201.1 307.9L206.4 312.3L209 321L202 322L201 316L192 311Z"/>
<path class="c4" d="M171 299L174 299L175.5 300L177.5 310L178.4 322L178 335L179 357L183 372L190.5 384L195 389L190 388.5L185 383.5L180 375.5L177 367L175 357L174 347L172.3 335L172.2 322L172.2 310Z"/>
<path class="c1" d="M179 310L186 309L192 311L201 316L202 322L209 321L205 330L202 336L204 341L209 345L207 351L200 353L197 355L196 360L192 362L195 367L190 372L187 375L186 381L190.5 384L183 372L179 357L178 335L178.4 322L177.5 310ZM192 386L197 388L195 390L192 389Z"/>
<path class="c1" d="M205 330L214 334L212 339L206 341L204 341L202 336Z"/>
<path class="c0" d="M210 381L214 381L214 383L210 383Z"/>
<path class="c1" d="M313.2 165.1L317 164.2L321.6 164.4L331.8 161.9L342.8 161.2L347.9 161.9L349.2 167.6L346.6 170.9L348.5 172.8L355 172L362 175L368 172L374 172L379 175L385 175L392 176L397 175L400 177L399 181L402 190L404 197L409 205L412 212L417 219L422 225L424 228L432 226L440 226L438 232L433 240L427 248L422 254L416 262L414 270L414 280L416 287L414 295L410 301L403 305L402 311L398 316L396 322L393 327L386 335L377 339L367 340L364 336L362 328L360 318L356 305L352 293L351 285L354 275L352 265L348 258L346 250L344 243L344 237L343 241L339.6 242.8L333.8 237.7L326 239L318 240L311 240L305 237L298 232L293 226L289 221L288.1 218.4L288.5 213L290.1 204.3L288.1 200.4L292 194L295.9 187.6L299.7 183.1L304.2 177.3L306.1 171.5L310.6 167.6Z"/>
<path class="c1" d="M313.2 165.1L317 164.2L321.6 164.4L321.6 166.4L322.8 172.1L315.1 177.3L308.1 179.9L308.1 183.7L299.7 183.7L304.2 177.3L306.1 171.5L310.6 167.6Z"/>
<path class="c0" d="M299.7 183.7L308.1 183.7L307.4 186.9L302.3 187.6L301 194L295.9 199.1L292 200.4L288.1 200.4L292 194L295.9 187.6Z"/>
<path class="c1" d="M292 200.4L295.9 199.1L301 194L302.3 187.6L307.4 186.9L308.1 183.7L311.9 190.1L313.2 213.9L301 214.6L296 214L292 209.4L290.1 204.3L288.1 200.4Z"/>
<path class="c1" d="M321.6 164.4L331.8 161.9L342.8 161.2L341.5 168.3L344.7 174.7L346 175.4L346 183.7L350.5 194L334.4 205.6L330.6 203L311.9 190.1L308.1 183.7L308.1 179.9L315.1 177.3L322.8 172.1L321.6 166.4Z"/>
<path class="c1" d="M342.8 161.2L347.9 161.9L349.2 167.6L346.6 170.9L348.5 172.8L346 175.4L344.7 174.7L341.5 168.3Z"/>
<path class="c1" d="M346 175.4L348.5 172.8L355 172L362 175L368 172L374 172L379 175L380 198L378 202L362 196L358 197L350.5 194L346 183.7Z"/>
<path class="c1" d="M379 175L385 175L392 176L397 175L400.3 176.5L400.5 181L399.2 182.5L402 190L404.7 197L380 198Z"/>
<path class="c1" d="M380 198L404 197L409 205L407 213L406.5 217L406.5 219L403 225L400 228L398.5 225L396.5 228L391 233L385 235L380 232L377 226L375 219L378 210L378 202Z"/>
<path class="c0" d="M380 232L385 235L391 233L396.5 228L398.5 225L400 228L400 233L403.5 239L400 243L393 244L388 241L384 241L381 236Z"/>
<path class="c0" d="M358 197L362 196L378 202L378 210L375 219L377 226L373 225L369 231L362 230L360 226L360 215L359 206Z"/>
<path class="c1" d="M334.4 205.6L350.5 194L358 197L359 206L360 215L356.9 218.4L347.3 221L338 220L334.4 219.7L334 218L333 213Z"/>
<path class="c1" d="M311.9 190.1L330.6 203L334.4 205.6L333 213L334 218L325 220L317 223L312 227L306 224L302 219L301 214.6L313.2 213.9Z"/>
<path class="c1" d="M334.4 219.7L338 220L347.3 221L356.9 218.4L358.8 224.8L353 235.1L347.3 241.5L339.6 242.8L333.8 237.7L332.5 230Z"/>
<path class="c1" d="M400 233L403 225L406.5 219L410 216.5L414 217.5L418 222L419.5 223L419 224L422 228.5L431 233.5L425 241L418 243L413 244.5L406.5 242L403 237Z"/>
<path class="c0" d="M406.5 219L406.5 217L408 211L410.5 209.5L412.5 214L415 217L418 220L419.5 223L418 222L414 217.5L410 216.5Z"/>
<path class="c1" d="M434.5 228.5L437 225L439.5 225.5L438 232L433 240L425 249L419 256L417.5 254L417 246L418 243L425 241L431 233.5Z"/>
<path class="c0" d="M421.5 224.5L424 228L432 226.5L437 225L434.5 228.5L431 233.5L422 228.5Z"/>
<path class="c0" d="M419.5 223L421.5 224.5L422 228.5L419 226Z"/>
<path class="c1" d="M403 243L403 237L406.5 242L413 244.5L417 246L417.5 254L419 256.5L414 264L410 260L401.5 255L401 253L403 249Z"/>
<path class="c1" d="M394 255L401.5 255L410 260L414 264L414 270L414 278L408 280L401 277L397 270L394 262Z"/>
<path class="c1" d="M393 244L400 243L403.5 239L403 243L403 249L401 253L401.5 255L394 255L392.5 250Z"/>
<path class="c0" d="M352 265L356 262L360 256L362 248L366 243L374 242L384 241L390 241L398 241L396 249L398 254L395 262L397 270L394 277L396 283L390 283L384 280L378 281L374 276L366 274L362 268L355 268L352 268Z"/>
<path class="c1" d="M352 268L355 268L362 268L366 274L374 276L378 281L378 288L382 294L374 295L362 295L352 294L351 285L354 275Z"/>
<path class="c1" d="M378 281L384 280L390 283L396 283L400 280L402 286L398 292L392 296L386 299L382 294L378 288Z"/>
<path class="c1" d="M401 277L408 280L414 278L416 287L414 295L410 301L403 305L402 311L398 316L396 312L398 304L396 298L398 292L402 286L400 280Z"/>
<path class="c1" d="M386 299L392 296L398 292L396 298L398 304L392 309L386 306L383 302Z"/>
<path class="c1" d="M371 302L376 300L383 302L386 306L392 309L386 313L382 316L376 318L372 316L371 310Z"/>
<path class="c1" d="M352 294L362 295L374 295L382 294L376 297L376 300L371 302L371 310L372 316L371 324L367 326L361 326L360 318L356 305Z"/>
<path class="c4" d="M361 326L367 326L370 325L372 319L376 318L382 316L386 313L392 309L394 311L396 317L396 322L393 327L386 335L377 339L367 340L364 336L365 331Z"/>
<path class="c0" d="M385 327.5L388 326.5L389.5 329L387 331L385 330Z"/>
<path class="c0" d="M392 319.5L394 319.5L394.5 322L392.5 322.5Z"/>
<path class="c1" d="M432 285L436 289L434 296L432 302L428 310L425 316L421 316L420 311L422 300L425 294L429 289Z"/>
<path class="c1" d="M344 237L347 241L352 234L358 226L360 226L362 230L360 236L362 242L362 248L352 248L346 248L346 250L344 243Z"/>
<path class="c0" d="M362 230L369 231L373 225L377 226L380 232L381 236L384 241L374 242L366 243L362 242L360 236Z"/>
<path class="c0" d="M346 248L352 248L356 250L357 258L352 262L348 258L346 250Z"/>
<path class="c0" d="M352 248L362 248L360 256L356 262L352 265L352 262L357 258L356 250Z"/>
<path class="c1" d="M289 212L291 208L296 214L301 214L302 219L296 219L290 218L288 214Z"/>
<path class="c1" d="M290 218L296 219L302 219L306 224L305 230L300 229L296 226L292 224L289 220Z"/>
<path class="c0" d="M292 224L296 226L300 229L305 230L306 235L305 237L298 232L293 226Z"/>
<path class="c0" d="M305 230L306 224L312 227L316 228L317 240L311 240L305 237L306 235Z"/>
<path class="c1" d="M316 228L321 227L323 233L324 239L318 240L317 240Z"/>
<path class="c1" d="M312 227L317 223L325 220L330 222L328 226L321 227L316 228Z"/>
<path class="c1" d="M321 227L328 226L330 222L334 220L332 233L333 237L326 239L324 239L323 233Z"/>
<path class="c1" d="M438 141L490 135L492 165L478 168L456 180L440 165Z"/>
<path class="c1" d="M375.6 82.6L374.3 80.4L380 81.5L388 84L395 86L400 87.5L398 91L402 92L406 88L412 85L415 80L419 84L425 84L432 78L436 84L440 78L444 76L449 81L452 77L454 72.6L464.4 68.3L470 65.5L476 66L482 67.5L486 69.5L493.6 72.6L490.1 76L496 76.5L502.1 76L514.1 75.1L524.4 76.9L531.3 79.4L540 78L548 77.5L555.8 78.7L568 80.5L580.9 81.9L603 83.4L614 86L625 89.7L636 97.6L631.3 103.9L625 101L618.7 102.3L617.7 104.9L621.6 110.7L625.4 114.6L626.7 122.3L625.4 131.3L621.6 139L619 136.4L616.4 127.4L615.1 119.7L612.6 113.3L611.3 108.1L613.8 103L612.6 99.8L608.7 101.1L603.6 100.4L601 103L604.8 106.2L597.1 106.9L588.1 106.2L581.1 108.1L577.9 115.9L584.3 118.4L590.7 118.4L595.9 126.1L599.1 132.6L597.1 141.6L594.6 146.1L594 146.5L588 146L588 144L590 136L586 133L574 129L566 125L561 120L555 121L552 124L552 128L548 128L540 130L530 130L520 128L512 127L505 129L497 132L494 132L482 126L470 120L457 116L445 119L435 122L425 124L419 125L419 130L422 135L421 137L423 144L420 145.5L413 146L405 143L400 140L396 136L400 132L398 128.5L393 126L388 123L383 122L384 118L382 114L376.5 112.5L375.5 108.5L374.7 105.7L376 102.3L379.4 98.9L377.3 95.4L374.7 91.1L373.4 86.9L371.7 83ZM426.5 68.5L420 69L414 71L409.5 74.5L410 79.5L411.8 79.8L411.8 75.5L415 72.8L420.5 71L426.5 70.2ZM449 60.6L455 60.5L462 62L468 63.5L466 65L459 63.5L452 62.3ZM527 71L533 69.2L541 69.5L545 71.5L540 74L532 73.8ZM389 60.5L396 59.7L405 60L414 61L410 62.3L400 62L392 62ZM592.6 117.8L594.5 117.8L600 124L606 131L609.3 136.4L607.8 137L603 132L597 125ZM28.5 89L32 86.3L36 87L41 89.5L39 92L35 91.5L33 93L30 91.5ZM360 116L365 116L365 118L360 118Z"/>
<path class="c1" d="M419 125L425 124L435 122L445 119L457 116L470 120L482 126L494 132L490.4 136L488.6 140.6L488.6 147.1L486.6 146.9L478.1 145.6L472.1 146.3L473.3 146.9L466 149.3L461.1 148.1L456.3 143.8L449 143.2L442.9 139.6L438.1 140.8L438.7 145L434 147L430.2 138.4L426.5 135.9L420.5 137.1L422 135L419 130Z"/>
<path class="c1" d="M438.1 140.8L442.9 139.6L449 143.2L456.3 143.8L461.1 148.1L466 149.3L473.3 146.9L475.7 149.3L470.9 152.9L466 155.4L468.4 158.4L464.8 159L461.1 155.4L456.3 152.9L450.2 149.3L445.4 147.5L440.5 148.1L438.7 145Z"/>
<path class="c0" d="M435 152.9L440.5 148.1L445.4 147.5L450.2 149.3L456.3 152.9L461.1 155.4L464.8 159L461.8 161.4L457.5 163.9L453.9 162.6L449 159L442.9 157.8L437.5 159L436.9 159L434.4 154.1Z"/>
<path class="c0" d="M467.2 149.3L472.1 146.3L478.1 145.6L486.6 146.9L487.9 150.5L483 152.3L478.1 154.1L479.4 157.8L474.5 160.2L470.9 157.8L468.4 158.4L466 155.4L470.9 152.9L475.7 149.3L473.3 146.9Z"/>
<path class="c1" d="M405 143L413 146L420 145.5L423.1 144L424.3 145.7L427.7 153.7L424 158.8L418.6 159.4L417.4 158.3L416.4 152.9L412.1 150L408 147Z"/>
<path class="c1" d="M455.1 165.1L461.8 161.4L464.8 159L468.4 158.4L470.9 157.8L474.5 160.2L479.4 159L480.6 160.8L475.7 162.6L474.5 166.3L473.3 171.1L468.4 176L463.6 179L458.7 178.4L455.1 173.6L453.9 168.7Z"/>
<path class="c2" d="M475.7 162.6L480.6 160.8L483 162.6L487.6 162.9L487.6 163.9L483.9 169.4L479.3 181.5L476.5 184.3L474.6 193.6L470 191L461 190L458.6 189.7L459.7 184.6L458.1 180.3L458.7 178.4L463.6 179L468.4 176L473.3 171.1L474.5 166.3Z"/>
<path class="c1" d="M418.6 159.4L424 158.8L427.7 153.7L429 160.2L433.2 161.4L437.5 159L442.9 157.8L449 159L453.9 162.6L457.5 163.9L455.1 165.1L453.9 168.7L455.1 173.6L458.7 178.4L458.1 180.3L459.7 184.6L458.6 189.7L449.4 188L446 185.7L440.3 188L433.4 182.3L429.4 177.7L427.7 176.6L423.1 170.9L418.6 162.9Z"/>
<path class="c1" d="M412.3 160.6L418.6 162.9L423.1 170.9L427.7 176.6L426.6 180L419.7 178.9L409.4 173.1L408.3 169.7Z"/>
<path class="c0" d="M401.4 161.5L404.3 160L412.3 160.6L408.3 169.7L404 171L401.8 168Z"/>
<path class="c3" d="M400.5 168L401.8 168L404 171L408.3 169.7L409.4 173.1L408.9 173.7L404 177L401.4 181.1L400.3 176Z"/>
<path class="c1" d="M401.4 181.1L404 177L408.9 173.7L419.7 178.9L426.6 180L429.4 183.4L432.5 187L435.7 191.4L440.3 196L446 198.3L443.7 204L440.3 206.9L430 208.6L419.7 210.3L416.3 207.4L411.7 199.4L406 190.3Z"/>
<path class="c1" d="M419.7 210.3L430 208.6L440.3 206.9L442 211.2L432.3 217.7L422 221.7L420.3 216.6Z"/>
<path class="c0" d="M437 190.5L441 192.5L445 190.5L447.5 187.8L448.5 191L446 193.7L446 198.3L440.3 196Z"/>
<path class="c1" d="M446 193.7L455.7 197.1L451.7 206.3L442 211.2L440.3 206.9L443.7 204L446 198.3Z"/>
<path class="c6" d="M495.1 131.4L499.7 134.1L505.3 139.7L514.6 142.5L522 146.2L531.3 146.2L538.7 148.1L546.1 145.3L551.7 141.6L557.3 137.9L561 135.1L558.2 131.4L552.6 132.3L552.6 127.6L555.4 123.9L554.5 121.1L561 120.2L566.6 123.9L571.2 128.6L577.7 133.2L586.1 132.3L589.8 136L588.8 142.5L586.1 148.1L579.6 152.7L574 151.8L571.2 155.5L575.8 159.2L579.6 160.1L576.8 164.8L581.4 171.3L585.1 178.7L584.2 186.1L580.5 193.6L574 198.2L566.6 200.1L561 197.3L555.4 197.3L551.7 200.1L546.1 197.3L541.5 195.4L537.8 189.9L536.9 183.4L531.3 180.6L525.7 183.4L518.3 184.3L507.1 181.5L497.9 176.9L493.2 171.3L493.2 164.8L487.6 162.9L481.1 158.3L478.4 154.6L483 151.8L488.6 147.1L488.6 140.6L490.4 136ZM563.8 204.5L566.5 203.6L567.6 206L565 207.6Z"/>
<path class="c1" d="M497 132L505 129L512 127L520 128L530 130L540 130L548 128L552.6 127.6L552.6 132.3L558.2 131.4L561 135.1L557.3 137.9L551.7 141.6L546.1 145.3L538.7 148.1L531.3 146.2L522 146.2L514.6 142.5L505.3 139.7L499.7 134.1Z"/>
<path class="c4" d="M487.6 163.9L493.2 165.7L493.2 171.3L497.9 177.8L498.8 181.5L507.1 185.2L516.4 188L523.9 186.1L525.7 184.3L531.3 181.5L535.9 184.3L534.1 188.9L529.4 192.6L527.6 197.3L524.8 193.6L520.1 191.7L520 195L517.4 197.3L514.6 202.9L509.9 210.3L505.3 214.9L503.5 220L502 226L499 232L496 230L493 222L488.6 214.9L485.8 208.4L483 201L478.4 200.1L479.3 195.4L474.6 193.6L476.5 184.3L479.3 181.5L483.9 169.4Z"/>
<path class="c1" d="M497.9 177.2L507.1 181.5L518.3 184.3L523.5 184L523.9 186.1L516.4 188L507.1 185.2L498.8 181.5Z"/>
<path class="c0" d="M525.7 183.4L531.3 180.9L531.3 181.7L525.7 184.5Z"/>
<path class="c1" d="M520.1 191.7L524.8 193.6L527.6 197.3L526 199.5L522 198L520 195Z"/>
<path class="c1" d="M504 231L507 230L508 235L506 238L504 236Z"/>
<path class="c1" d="M529.4 192.6L534.1 188.9L535.9 184.3L536.9 183.4L537.8 189.9L541.5 195.4L544.3 199.1L540.4 204.3L539.8 210.7L541.5 216L542.4 222.3L541 222L539.5 214L535.3 213.3L532.7 208.1L530.1 203L526.9 199.1L527.6 197.3Z"/>
<path class="c4" d="M539.8 203.6L546.2 203L549.4 208.8L555.8 210.1L557.8 215.2L552.6 217.8L550.7 222.3L546.9 219.1L545.6 223.6L543.6 230L546.2 233.8L550.1 237.7L548.8 239L544.9 235.8L542.4 228.7L542.4 222.3L541.5 216L539.8 210.7L540.4 204.3Z"/>
<path class="c1" d="M546.2 203L546.2 200L550.7 199.1L554.6 201L557.1 205.6L562.3 213.3L562.9 218.4L557.8 215.2L555.8 210.1L549.4 208.8Z"/>
<path class="c1" d="M546.1 197.3L551.7 200.1L555.4 197.3L558.5 196.5L559.7 199.5L557.5 202L560 206L563.6 210.5L566 214.6L566.8 221L563.6 227.4L559.1 230L559.5 226.1L562.9 223L562.9 218.4L562.3 213.3L557.1 205.6L554.6 201L550.7 199.1L546.2 200Z"/>
<path class="c1" d="M552.6 217.8L557.8 215.2L562.9 218.4L562.9 223L559.5 226.1L555 225.5L552.6 222Z"/>
<path class="c2" d="M550.1 237.7L553 240L556.5 244.5L556.5 248L553.5 248L551 243.5L548.8 239ZM573.2 248.6L577.7 245.4L582.8 241.6L585.4 237.1L589.3 239.6L588 243.5L581.6 246.1L573.8 249.5Z"/>
<path class="c1" d="M537.9 239.6L544.3 241.6L553.3 250.6L559.7 259.6L562.3 266L559.7 267.3L553.3 262.1L545.6 253.1L539.8 244.1ZM561 268.5L568 268.8L575 270L580.3 271.3L586 272.5L586 274.3L578 273.7L568 272L561 270.5ZM568.7 250.6L573.2 248.6L573.8 249.5L581.6 246.1L588 243.5L588.6 249.3L585.4 257L582.8 263.4L576.4 262.1L571.3 260.2L569.3 255.1ZM592 254L597 253L603 254L602 256L597 256.5L600 261L603 266L601 268L598 264L596 269L593.5 269L594.5 262L593 258ZM619 257L624 256L627 258.5L631 258L636 259L640.5 260.7L640.5 278L636 272L631 270L627 266L623 262ZM594 273.5L600 274L606 275L612 275.5L612 277L604 277L596 275.5ZM610 249L613 249L613 256L610 256Z"/>
<path class="c0" d="M639.8 262.2L649.8 265.3L654.4 273L659 278.3L655.9 279.1L648.3 274.5L642.9 274.5L640.6 276.8L639.8 271.4ZM661 262L668 264L674 268L673 270L667 267L661 264.5ZM678 270L684 274L688 279L686 280L681 276ZM684 304L688 306L691 309.5L689.5 310L685.5 307Z"/>
<path class="c3" d="M589.9 208L594 207.3L595.5 212L596.5 216.5L599 221L600 225L596.5 224.5L593 218.5L590.8 213.5ZM600.4 231.6L603 229L607.7 232L607 238L603 240L601 236ZM598 225L603 225L604 229L600 229ZM583 236L589 229L590 230.5L584.5 237Z"/>
<path class="c0" d="M587.3 191.5L589.5 190.1L590.2 194L588.8 197.4L586.8 195Z"/>
<path class="c0" d="M583 150L588 146L594 146.5L591 152L593 157L588.8 157.6L586 157L585 154Z"/>
<path class="c4" d="M588.8 157.6L593 157L596 161L595.9 166.6L592 167.5L590 163Z"/>
<path class="c6" d="M608.5 141.8L613 141L619 143.2L617 147.5L613 148L610.5 146.5ZM612.3 150L616 150.5L619.5 156L620.3 162L617.5 166.5L611 168L606.5 169.5L602 171.5L600.5 169L606 165L611 162.5L613.5 159L612.5 154ZM599.7 170.5L603 170L604 174L601 175.3ZM606 170L610 169.3L609.3 172L606 172Z"/>
<path class="c4" d="M568.6 339.4L571.1 335.1L570.3 321.4L572.9 312.9L578.9 306.9L587.4 304.3L594.3 300.9L596.9 295.7L604.6 289.7L611.4 290.6L614 284.6L619.1 282.9L626.9 283.7L627.7 287.1L626 291.4L635.4 297.4L638 290.6L640.6 280.3L644.9 290.6L646.6 300.9L652.6 309.4L656.9 318L656 324.9L652.6 333.4L645.7 340.3L637.1 347.1L628.6 350.9L620.9 350.6L617.4 345.4L615.7 338.6L611.4 342L606.3 334.3L599.4 333.4L590.9 336L580.6 339.4L572 341.7ZM620.9 356.6L628.6 354.3L629.4 356.6L624.3 360.9L620 362.6Z"/>
<path class="c1" d="M688.8 340.3L691.1 344.9L695.7 348L693.4 351.8L688.1 355.6L683.5 357.1L684.2 352.6L687.3 349.5L688.8 344.9ZM681.9 357.1L678.9 360.2L671.2 364.8L663.6 369.4L656.7 372.5L655.9 369.4L662 365.6L671.2 360.2L678.9 356.4Z"/>
<path class="c1" d="M339 121L354 121L366 119L372 114.5L384 114L396 128L384 139L370 147L366 140L352 134L339 131Z"/>
<path class="c0" d="M285 91.8L292.1 89.8L299.8 90.1L303.7 92.4L301.1 95.6L292.1 96.9L287 95Z"/>
<path class="c1" d="M340.4 65L345 62.5L352 62.3L359 63L363.6 65.5L358 68.3L350 67.5L346 68.5L342 67Z"/>
<path class="c1" d="M334.9 100.6L339.1 97.6L343 96L345 91L346.4 86.9L350.5 84L355.4 82.1L364 80L374.3 80.4L375.6 82.6L371.7 83L368.3 83.4L365.7 86.9L362.3 86L357.1 86L352.9 87.7L351.1 90.3L348.6 94.6L347.7 99.7L347.3 106.6L343.4 107.8L339.1 108.7L335.7 105.7Z"/>
<path class="c1" d="M352.9 87.7L357.1 86L362.3 86L364.4 88.6L363.6 91.1L360.6 94.1L357.6 97.1L355.4 99.7L356.3 103.1L358 104.9L355.4 110L352.9 111.7L350.7 114.3L348.6 110.9L347.3 106.6L347.7 99.7L348.6 94.6L351.1 90.3Z"/>
<path class="c1" d="M365.7 86.9L368.3 83.4L371.7 83L373.4 86.9L374.7 91.1L377.3 95.4L379.4 98.9L376 102.3L369.1 104L364 102.7L362.7 98.9L365.7 95.4L368.3 92.4L365.7 90.3L364.4 88.6L362.3 86Z"/>
<path class="c3" d="M340.7 112L344.5 110.8L345.5 113.5L345 116.2L341.2 116.3ZM346 113.5L348.2 113.5L348.2 116L346 116Z"/>
<path class="c5" d="M316.7 108.8L321.4 107.9L322.3 111.1L320 115.3L323.2 116.2L326 120L328.3 122.3L326.9 125.1L322.3 126.5L316.7 127.4L318.6 124.1L317.2 121.4L320 119.5L317.6 116.7L316.2 113ZM312.5 116.5L315.3 115.8L315.6 118.4L313.3 119Z"/>
<path class="c1" d="M306 120L308 118.3L312.5 117L313.3 119L314 120.5L312.5 123.5L308 124.3L306.5 122.5Z"/>
<path class="c4" d="M317.6 132L323.2 130.6L328.8 126.9L331.6 127.9L335.3 130.6L339.9 132L339 135.7L337.1 138.1L339 141.8L338.1 144.1L333.4 145.5L330.6 144.6L326 145.5L323.2 143.6L324.1 138.1L322.3 134.4ZM343.6 142.5L345 142.5L345 146L343.6 146Z"/>
<path class="c4" d="M307.4 145.5L312.1 144.6L323.2 145.5L326 145.5L330.6 147.4L327.9 150.6L325.1 154.8L322.3 159.4L315.8 161.3L313 160.8L312.1 155.7L312.5 149.2L307.9 147.4Z"/>
<path class="c2" d="M307.9 147.4L312.5 149.2L312.1 155.7L313 160.8L308.5 160L307 154Z"/>
<path class="c6" d="M338.5 125L340 120L344 118L349 118.5L352.5 120L353 124L350.5 126L351.5 130L349.5 132.8L343 133L341 129.5L338.5 127.5Z"/>
<path class="c4" d="M333.9 122L338 120.6L338.1 123.2L338.5 124.6L335 124.8Z"/>
<path class="c4" d="M331.6 125.2L335 124.8L338.5 124.6L338.5 126.9L337.1 128L334 127.3Z"/>
<path class="c4" d="M338.5 135.5L341 134.3L343.5 134.5L343.5 137L341.5 137.6L338.7 137.3Z"/>
<path class="c3" d="M343.5 134.5L349.5 132.8L354 132.3L359 131L360 133.5L359 136L352 137.4L347 136.9L343.5 137Z"/>
<path class="c4" d="M350.5 126L353.5 125L357 126.5L361 128.5L359 131L354 132.3L351.5 130Z"/>
<path class="c1" d="M354 120L358 117.5L364 117.2L369.5 118.5L371 123L370.5 127L367 129L362 128.5L357 126.5L353.5 125L353 124L352.5 120Z"/>
<path class="c3" d="M359 131L361 128.5L367 129L368 131L362 132.8L360 133.5Z"/>
<path class="c1" d="M360 133.5L362 132.8L368 131L369.5 133.5L368.5 136L366 137.5L361 137.9L359 136Z"/>
<path class="c5" d="M341 139.5L345 137L350.5 137.5L351.5 141L355 145L358.5 150L360.5 153L359 156L357 154.5L354.5 158L355.5 154L352 149L348 144.5L344 142.5L341.5 142.3ZM352.5 158.3L357.5 157.8L357 160.8L354 160.3ZM342.5 147L345 147L345 155L342.5 155Z"/>
<path class="c1" d="M351.4 137.4L358 136L361 137.9L362 140L358 140.5L357 143L360 147L356 144L353 140.5Z"/>
<path class="c1" d="M357 140.5L362 140L363 143L361 146L358 143.5Z"/>
<path class="c1" d="M361 137.9L366 137L367.5 140L369 142L368 146L364 147L362 144L363 143L362 140Z"/>
<path class="c1" d="M361 146L364 147L368 146L369 148.5L366 149.5L364 152L362 151Z"/>
<path class="c4" d="M366 137.5L368.5 136L369.5 133.5L372 134.5L377 133.8L380.5 135.5L382.5 140L381 142.5L375 143L370 141.5L367.5 140Z"/>
<path class="c1" d="M379 134.5L381 133L384 137L382.9 139Z"/>
<path class="c4" d="M369.5 142L375 143L381 142.5L382 146.5L376 148.3L370.5 148L369 145.5Z"/>
<path class="c4" d="M366 149.5L369 148.5L376 148.3L377 150L372 151L371 154L373 158L370 159.5L367 155.5L365 152.5ZM372 161.5L377 161.5L377 162.8L372 162.8Z"/>
<path class="c3" d="M380.7 153.6L385 150.7L391.4 149.3L397.1 148.6L404.3 150L412.1 150L416.4 152.9L417.1 157.9L411.4 159.3L404.3 160L398.6 162.1L392.9 161.4L387.1 160.7L382.1 158.6L380.7 156.4ZM377 148.5L381 147.5L382 150L379 151Z"/>
<path class="c1" d="M393 163.5L397 162.5L397 164.5L393.5 165Z"/>
<path class="c1" d="M369.1 106.2L374.7 105.7L375.5 108.5L369.5 109Z"/>
<path class="c1" d="M366 110.5L369 109.5L375 109L376.5 112.5L371 113L366.5 113Z"/>
<path class="c1" d="M365.7 113.3L371 113L374.3 114.5L373.5 117.5L369 118.3L366 116.5Z"/>
<path class="c1" d="M371 120L373 118L374 114.5L376.5 112.5L382 114L384 118L383 122L378 123.5L371 123.6Z"/>
<path class="c3" d="M370.7 123.6L378 123.5L383 122L388 123L393 126L398 128.5L400 132L396 135.5L392 136L393.5 139.3L396.8 140.3L394 142.6L390.3 141.6L389.8 139.3L386 139.5L384 137L381 133L379 134.5L374 133.5L368.6 133.6L367 131L370 127.9Z"/>
</g>
<g id="legend"><rect class="sw c1" x="1.7" y="423.4" width="30.2" height="15"/><rect class="sw c2" x="120.7" y="423.4" width="30.2" height="15"/><rect class="sw c3" x="237.2" y="423.4" width="30.2" height="15"/><rect class="sw c4" x="355.3" y="423.4" width="30.2" height="15"/><rect class="sw c5" x="473.4" y="423.4" width="30.2" height="15"/><rect class="sw c6" x="590.3" y="423.4" width="30.2" height="15"/></g>
<g id="labels" font-family="Liberation Sans, sans-serif">
<text y="27" font-size="23.7" fill="#3d3a37"><tspan x="0.6" textLength="45.8" lengthAdjust="spacingAndGlyphs">How</tspan> <tspan x="57.5" textLength="48.2" lengthAdjust="spacingAndGlyphs">wind</tspan> <tspan x="113.0" textLength="41.1" lengthAdjust="spacingAndGlyphs">and</tspan> <tspan x="160.3" textLength="50.1" lengthAdjust="spacingAndGlyphs">solar</tspan> <tspan x="218.0" textLength="63.8" lengthAdjust="spacingAndGlyphs">power</tspan> <tspan x="290.5" textLength="52.2" lengthAdjust="spacingAndGlyphs">have</tspan> <tspan x="348.5" textLength="71.7" lengthAdjust="spacingAndGlyphs">spread</tspan> <tspan x="427.4" textLength="76.1" lengthAdjust="spacingAndGlyphs">around</tspan> <tspan x="511.5" textLength="32.4" lengthAdjust="spacingAndGlyphs">the</tspan> <tspan x="550.5" textLength="60.8" lengthAdjust="spacingAndGlyphs">world</tspan></text>
<text x="272.5" y="122.5" font-size="17.8" font-weight="normal" fill="#4a4542" textLength="25.8" lengthAdjust="spacingAndGlyphs">UK</text>
<text x="264.3" y="142.0" font-size="17.6" font-weight="bold" fill="#14853b" textLength="34.1" lengthAdjust="spacingAndGlyphs">15k</text>
<text x="379.1" y="114.3" font-size="17.8" font-weight="normal" fill="#4a4542" textLength="75.8" lengthAdjust="spacingAndGlyphs">Germany</text>
<text x="379.0" y="134.2" font-size="17.6" font-weight="bold" fill="#064a1d" textLength="33.8" lengthAdjust="spacingAndGlyphs">50k</text>
<text x="183.0" y="166.5" font-size="17.8" font-weight="normal" fill="#4a4542" textLength="24.2" lengthAdjust="spacingAndGlyphs">US</text>
<text x="182.8" y="186.5" font-size="17.6" font-weight="bold" fill="#064a1d" textLength="34.1" lengthAdjust="spacingAndGlyphs">81k</text>
<text x="593.5" y="187.5" font-size="17.8" font-weight="normal" fill="#4a4542" textLength="48.0" lengthAdjust="spacingAndGlyphs">China</text>
<text x="593.9" y="207.0" font-size="17.6" font-weight="bold" fill="#064a1d" textLength="44.8" lengthAdjust="spacingAndGlyphs">148k</text>
<text x="445.9" y="230.0" font-size="17.8" font-weight="normal" fill="#4a4542" textLength="40.6" lengthAdjust="spacingAndGlyphs">India</text>
<text x="454.4" y="250.0" font-size="17.6" font-weight="bold" fill="#064a1d" textLength="33.6" lengthAdjust="spacingAndGlyphs">29k</text>
<text x="2.0" y="348.0" font-size="23.7" font-weight="bold" fill="#33302e" textLength="60.8" lengthAdjust="spacingAndGlyphs">Wind</text>
<text x="1.6" y="414.0" font-size="17.2" font-weight="bold" fill="#33302e" textLength="193.8" lengthAdjust="spacingAndGlyphs">Megawatts of capacity</text>
<text x="1.6" y="457.3" font-size="17.2" font-weight="normal" fill="#66605a" textLength="67.2" lengthAdjust="spacingAndGlyphs">1 - &lt;250</text>
<text x="119.6" y="457.3" font-size="17.2" font-weight="normal" fill="#66605a" textLength="87.8" lengthAdjust="spacingAndGlyphs">250 - &lt;500</text>
<text x="236.9" y="457.3" font-size="17.2" font-weight="normal" fill="#66605a" textLength="103.8" lengthAdjust="spacingAndGlyphs">500 - &lt;1,000</text>
<text x="355.2" y="457.3" font-size="17.2" font-weight="normal" fill="#66605a" textLength="101.1" lengthAdjust="spacingAndGlyphs">1,000 - &lt;10k</text>
<text x="472.4" y="457.3" font-size="17.2" font-weight="normal" fill="#66605a" textLength="84.7" lengthAdjust="spacingAndGlyphs">10k - &lt;25k</text>
<text x="588.7" y="457.3" font-size="17.2" font-weight="normal" fill="#66605a" textLength="110.6" lengthAdjust="spacingAndGlyphs">More than 25k</text>
<text x="272.5" y="547.8" font-size="17.8" font-weight="normal" fill="#4a4542" textLength="25.8" lengthAdjust="spacingAndGlyphs">UK</text>
<text x="265.3" y="567.3" font-size="17.6" font-weight="bold" fill="#14853b" textLength="33.1" lengthAdjust="spacingAndGlyphs">11k</text>
<text x="379.1" y="539.6" font-size="17.8" font-weight="normal" fill="#4a4542" textLength="75.8" lengthAdjust="spacingAndGlyphs">Germany</text>
<text x="380.1" y="559.5" font-size="17.6" font-weight="bold" fill="#064a1d" textLength="32.6" lengthAdjust="spacingAndGlyphs">41k</text>
<text x="183.0" y="591.8" font-size="17.8" font-weight="normal" fill="#4a4542" textLength="24.2" lengthAdjust="spacingAndGlyphs">US</text>
<text x="182.8" y="611.8" font-size="17.6" font-weight="bold" fill="#064a1d" textLength="34.1" lengthAdjust="spacingAndGlyphs">35k</text>
<text x="593.5" y="612.8" font-size="17.8" font-weight="normal" fill="#4a4542" textLength="48.0" lengthAdjust="spacingAndGlyphs">China</text>
<text x="594.1" y="632.3" font-size="17.6" font-weight="bold" fill="#064a1d" textLength="33.0" lengthAdjust="spacingAndGlyphs">77k</text>
<text x="445.9" y="655.3" font-size="17.8" font-weight="normal" fill="#4a4542" textLength="40.6" lengthAdjust="spacingAndGlyphs">India</text>
<text x="454.9" y="675.3" font-size="17.6" font-weight="bold" fill="#35a656" textLength="33.0" lengthAdjust="spacingAndGlyphs">10k</text>
<text x="1.2" y="776.0" font-size="23.7" font-weight="bold" fill="#33302e" textLength="60.1" lengthAdjust="spacingAndGlyphs">Solar</text>
<text x="1.2" y="832.2" font-size="13.6" font-weight="normal" fill="#66605a" textLength="293.8" lengthAdjust="spacingAndGlyphs">Source: International Renewable Energy Agency</text>
<text y="391.9" font-size="43.6" fill="#6b685e" stroke="#ffeedf" stroke-width="1.5"><tspan x="302.1" textLength="25.2" lengthAdjust="spacingAndGlyphs">2</tspan><tspan x="326.5" textLength="27.4" lengthAdjust="spacingAndGlyphs">0</tspan><tspan x="353.1" textLength="25.1" lengthAdjust="spacingAndGlyphs">1</tspan><tspan x="376.7" textLength="26.7" lengthAdjust="spacingAndGlyphs">6</tspan></text>
</g>
</svg>
</body></html>
